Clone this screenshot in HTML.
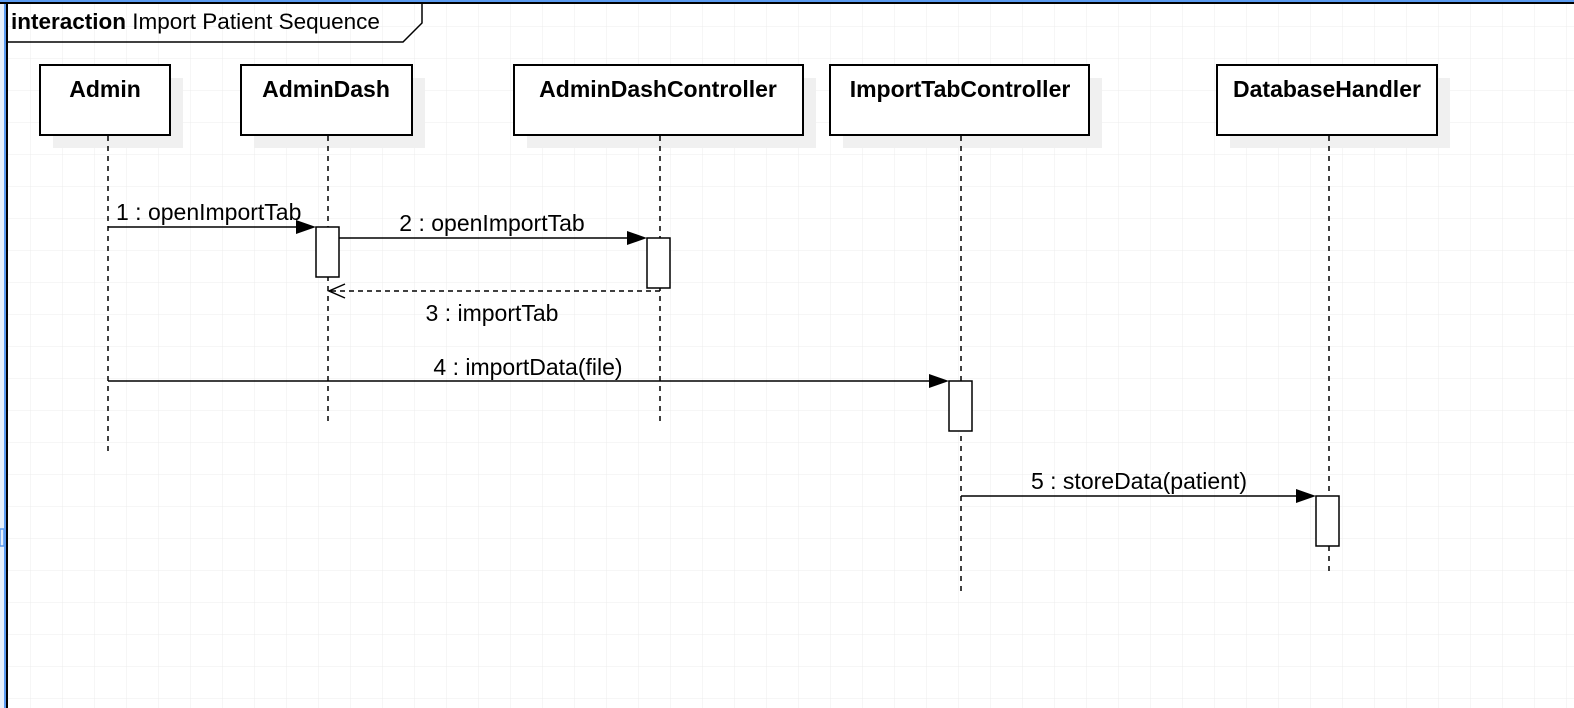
<!DOCTYPE html>
<html><head><style>
html,body{margin:0;padding:0;background:#fff;overflow:hidden;width:1574px;height:708px;}
svg{display:block;}
text{font-family:"Liberation Sans",Arial,sans-serif;}
</style></head><body>
<svg width="1574" height="708" viewBox="0 0 1574 708" xmlns="http://www.w3.org/2000/svg">
<defs>
<pattern id="g" x="30" y="26" width="32" height="32" patternUnits="userSpaceOnUse">
<path d="M0 0H32M0 0V32" stroke="#ececec" stroke-width="1" fill="none"/>
</pattern>
</defs>
<rect width="1574" height="708" fill="#fff"/>
<rect x="7" y="2" width="1567" height="706" fill="url(#g)"/>
<rect x="0" y="0" width="5" height="708" fill="#e6f0fc"/>
<rect x="4" y="0" width="2" height="708" fill="#5b9bf0"/>
<rect x="0" y="0" width="1574" height="2" fill="#5b9bf0"/>
<rect x="0" y="529" width="4" height="17" fill="none" stroke="#5b9bf0" stroke-width="1.5"/>
<line x1="7" y1="2" x2="7" y2="708" stroke="#000" stroke-width="2"/>
<line x1="0" y1="3" x2="1574" y2="3" stroke="#000" stroke-width="2"/>
<path d="M7 42 H403 L422 23 V3" fill="none" stroke="#000" stroke-width="1.5"/>
<text x="11" y="29" font-size="22.5"><tspan font-weight="bold">interaction</tspan> Import Patient Sequence</text>

<g fill="#f0f0f0">
<rect x="53" y="78" width="130" height="70"/>
<rect x="254" y="78" width="171" height="70"/>
<rect x="527" y="78" width="289" height="70"/>
<rect x="843" y="78" width="259" height="70"/>
<rect x="1230" y="78" width="220" height="70"/>
</g>
<g fill="#fff" stroke="#000" stroke-width="2">
<rect x="40" y="65" width="130" height="70"/>
<rect x="241" y="65" width="171" height="70"/>
<rect x="514" y="65" width="289" height="70"/>
<rect x="830" y="65" width="259" height="70"/>
<rect x="1217" y="65" width="220" height="70"/>
</g>
<g font-size="23" font-weight="bold" text-anchor="middle">
<text x="105" y="97">Admin</text>
<text x="326" y="97">AdminDash</text>
<text x="658" y="97">AdminDashController</text>
<text x="960" y="97">ImportTabController</text>
<text x="1327" y="97">DatabaseHandler</text>
</g>

<g stroke="#000" stroke-width="1.5" stroke-dasharray="5,5">
<line x1="108" y1="136" x2="108" y2="455"/>
<line x1="328" y1="136" x2="328" y2="422"/>
<line x1="660" y1="136" x2="660" y2="422"/>
<line x1="961" y1="136" x2="961" y2="595"/>
<line x1="1329" y1="136" x2="1329" y2="572"/>
</g>

<g fill="#fff" stroke="#000" stroke-width="1.5">
<rect x="316" y="227" width="23" height="50"/>
<rect x="647" y="238" width="23" height="50"/>
<rect x="949" y="381" width="23" height="50"/>
<rect x="1316" y="496" width="23" height="50"/>
</g>

<g stroke="#000" stroke-width="1.5">
<line x1="108" y1="227" x2="300" y2="227"/>
<line x1="339" y1="238" x2="630" y2="238"/>
<line x1="108" y1="381" x2="932" y2="381"/>
<line x1="961" y1="496" x2="1298" y2="496"/>
<line x1="660" y1="291" x2="330" y2="291" stroke-dasharray="5,4"/>
<path d="M345 284 L329 291 L345 298" fill="none"/>
</g>
<g fill="#000">
<path d="M296 220 L316 227 L296 234Z"/>
<path d="M627 231 L647 238 L627 245Z"/>
<path d="M929 374 L949 381 L929 388Z"/>
<path d="M1296 489 L1316 496 L1296 503Z"/>
</g>
<g font-size="23">
<text x="116" y="220">1 : openImportTab</text>
<text x="492" y="231" text-anchor="middle">2 : openImportTab</text>
<text x="492" y="321" text-anchor="middle">3 : importTab</text>
<text x="528" y="375" text-anchor="middle">4 : importData(file)</text>
<text x="1139" y="489" text-anchor="middle">5 : storeData(patient)</text>
</g>
</svg>
</body></html>
